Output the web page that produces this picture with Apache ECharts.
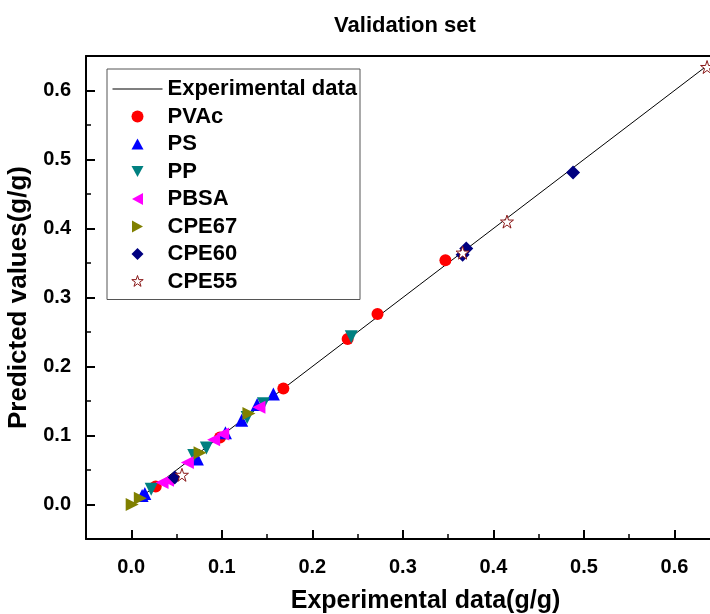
<!DOCTYPE html>
<html>
<head>
<meta charset="utf-8">
<script src="https://cdn.jsdelivr.net/npm/echarts@6/dist/echarts.min.js"></script>
<style>html,body{margin:0;padding:0;background:#fff}#c{width:710px;height:614px}</style>
</head>
<body>
<div id="c"></div>
<script>
// ---- data ----
const lineData = [[0, 0], [0.636, 0.636]];
const pvac  = [[0.027,0.026],[0.098,0.097],[0.168,0.168],[0.239,0.240],[0.272,0.276],[0.347,0.354]];
const ps    = [[0.012,0.013],[0.015,0.016],[0.073,0.066],[0.104,0.104],[0.122,0.122],[0.139,0.145],[0.157,0.160]];
const pp    = [[0.022,0.022],[0.069,0.071],[0.083,0.082],[0.128,0.126],[0.146,0.146],[0.243,0.243]];
const pbsa  = [[0.034,0.032],[0.040,0.035],[0.062,0.061],[0.091,0.094],[0.101,0.102],[0.141,0.141]];
const cpe67 = [[0.001,0.000],[0.010,0.009],[0.076,0.075],[0.130,0.132]];
const cpe60 = [[0.048,0.039],[0.366,0.362],[0.370,0.371],[0.488,0.481]];
const cpe55 = [[0.056,0.043],[0.366,0.365],[0.415,0.410],[0.636,0.634]];
const majorTicks = [0, 0.1, 0.2, 0.3, 0.4, 0.5, 0.6];
const minorTicksX = [0.05, 0.15, 0.25, 0.35, 0.45, 0.55, 0.65];
const minorTicksY = [0.05, 0.15, 0.25, 0.35, 0.45, 0.55];

const FONT = 'Liberation Sans, Arial, sans-serif';
const STAR = 'path://M50,0 L61.2,34.5 L97.6,34.5 L68.2,55.9 L79.4,90.5 L50,69.1 L20.6,90.5 L31.8,55.9 L2.4,34.5 L38.8,34.5 Z';

// legend icons drawn inside a 50x12 box (bounding points keep their shape unstretched)
const BOX = 'path://M0,0 M50,12 ';
const ICON = {
  line:  BOX + 'M0,5.5 L50,5.5 L50,6.6 L0,6.6 Z',
  up:    BOX + 'M25,0.5 L31,11.5 L19,11.5 Z',
  down:  BOX + 'M19,0.5 L31,0.5 L25,11.5 Z',
  left:  BOX + 'M19.5,6 L30.5,0 L30.5,12 Z',
  right: BOX + 'M30.5,6 L19.5,0 L19.5,12 Z',
  diam:  BOX + 'M25,0 L31,6 L25,12 L19,6 Z',
  star:  BOX + 'M25,0 L26.34,4.14 L30.71,4.14 L27.18,6.71 L28.53,10.86 L25,8.29 L21.47,10.86 L22.82,6.71 L19.29,4.14 L23.66,4.14 Z'
};

const chart = echarts.init(document.getElementById('c'), null, {renderer: 'canvas'});
const lbl = {fontFamily: FONT, fontWeight: 'bold', fontSize: 20, color: '#000'};

function sc(name, data, symbol, color, size, rot, extra) {
  return Object.assign({
    name, type: 'scatter', data, symbol, symbolSize: size, symbolRotate: rot,
    xAxisIndex: 0, yAxisIndex: 0, z: 3,
    itemStyle: {color: color, opacity: 1}
  }, extra || {});
}

// the original plot frame runs past the right edge of the picture (x axis to 0.7)
chart.setOption({
  animation: false,
  backgroundColor: '#fff',
  title: {
    text: 'Validation set', left: 400, top: 10, textAlign: 'center',
    textStyle: {fontFamily: FONT, fontWeight: 'bold', fontSize: 22, color: '#000'}
  },
  grid: {left: 86, top: 56, right: -55, bottom: 75, containLabel: false, outerBoundsMode: 'none'},
  legend: {
    orient: 'vertical', left: 107, top: 69,
    padding: [9, 3, 7, 5],
    borderColor: '#555', borderWidth: 1,
    itemWidth: 50, itemHeight: 12, itemGap: 5.5,
    textStyle: {fontFamily: FONT, fontWeight: 'bold', fontSize: 22, color: '#000', lineHeight: 20},
    data: [
      {name: 'Experimental data', icon: ICON.line, itemStyle: {color: '#000', borderWidth: 0}},
      {name: 'PVAc', icon: 'circle', itemStyle: {color: '#ff0000', borderWidth: 0}},
      {name: 'PS', icon: ICON.up, itemStyle: {color: '#0000ff', borderWidth: 0}},
      {name: 'PP', icon: ICON.down, itemStyle: {color: '#008080', borderWidth: 0}},
      {name: 'PBSA', icon: ICON.left, itemStyle: {color: '#ff00ff', borderWidth: 0}},
      {name: 'CPE67', icon: ICON.right, itemStyle: {color: '#808000', borderWidth: 0}},
      {name: 'CPE60', icon: ICON.diam, itemStyle: {color: '#000080', borderWidth: 0}},
      {name: 'CPE55', icon: ICON.star, itemStyle: {color: '#ffffff', borderColor: '#8b1a1a', borderWidth: 1}}
    ]
  },
  xAxis: [
    {
      type: 'value', position: 'bottom', min: -0.05, max: 0.7,
      axisLine: {show: true, onZero: false, lineStyle: {color: '#000', width: 2}},
      axisTick: {show: true, inside: true, length: 9, customValues: majorTicks, lineStyle: {color: '#000', width: 2}},
      axisLabel: Object.assign({show: true, margin: 18, customValues: majorTicks, formatter: v => v.toFixed(1)}, lbl),
      splitLine: {show: false},
      name: 'Experimental data(g/g)', nameLocation: 'middle', nameGap: 50,
      nameTextStyle: {fontFamily: FONT, fontWeight: 'bold', fontSize: 25, color: '#000'}
    },
    {
      type: 'value', position: 'bottom', min: -0.05, max: 0.7,
      axisLine: {show: false, onZero: false},
      axisTick: {show: true, inside: true, length: 5, customValues: minorTicksX, lineStyle: {color: '#000', width: 1.5}},
      axisLabel: {show: false}, splitLine: {show: false}
    },
    {
      type: 'value', position: 'top', min: -0.05, max: 0.7,
      axisLine: {show: true, onZero: false, lineStyle: {color: '#000', width: 2}},
      axisTick: {show: false}, axisLabel: {show: false}, splitLine: {show: false}
    }
  ],
  yAxis: [
    {
      type: 'value', position: 'left', min: -0.05, max: 0.65,
      axisLine: {show: true, onZero: false, lineStyle: {color: '#000', width: 2}},
      axisTick: {show: true, inside: true, length: 9, customValues: majorTicks, lineStyle: {color: '#000', width: 2}},
      axisLabel: Object.assign({show: true, margin: 15, customValues: majorTicks, formatter: v => v.toFixed(1)}, lbl),
      splitLine: {show: false},
      name: 'Predicted values(g/g)', nameLocation: 'middle', nameGap: 51,
      nameTextStyle: {fontFamily: FONT, fontWeight: 'bold', fontSize: 26, color: '#000'}
    },
    {
      type: 'value', position: 'left', min: -0.05, max: 0.65,
      axisLine: {show: false, onZero: false},
      axisTick: {show: true, inside: true, length: 5, customValues: minorTicksY, lineStyle: {color: '#000', width: 1.5}},
      axisLabel: {show: false}, splitLine: {show: false}
    }
  ],
  series: [
    {
      name: 'Experimental data', type: 'line', data: lineData, symbol: 'none', showSymbol: false,
      xAxisIndex: 0, yAxisIndex: 0, z: 2,
      lineStyle: {color: '#000', width: 1}, itemStyle: {color: '#000'}
    },
    sc('PVAc', pvac, 'circle', '#ff0000', 12, 0),
    sc('PS', ps, 'triangle', '#0000ff', 13, 0),
    sc('PP', pp, 'triangle', '#008080', 13, 180),
    sc('PBSA', pbsa, 'triangle', '#ff00ff', 13, 90),
    sc('CPE67', cpe67, 'triangle', '#808000', 13, -90),
    sc('CPE60', cpe60, 'diamond', '#000080', 14, 0),
    sc('CPE55', cpe55, STAR, '#8b1a1a', 13, 0, {
      itemStyle: {color: '#ffffff', borderColor: '#8b1a1a', borderWidth: 1, opacity: 1}
    })
  ]
});
</script>
</body>
</html>
